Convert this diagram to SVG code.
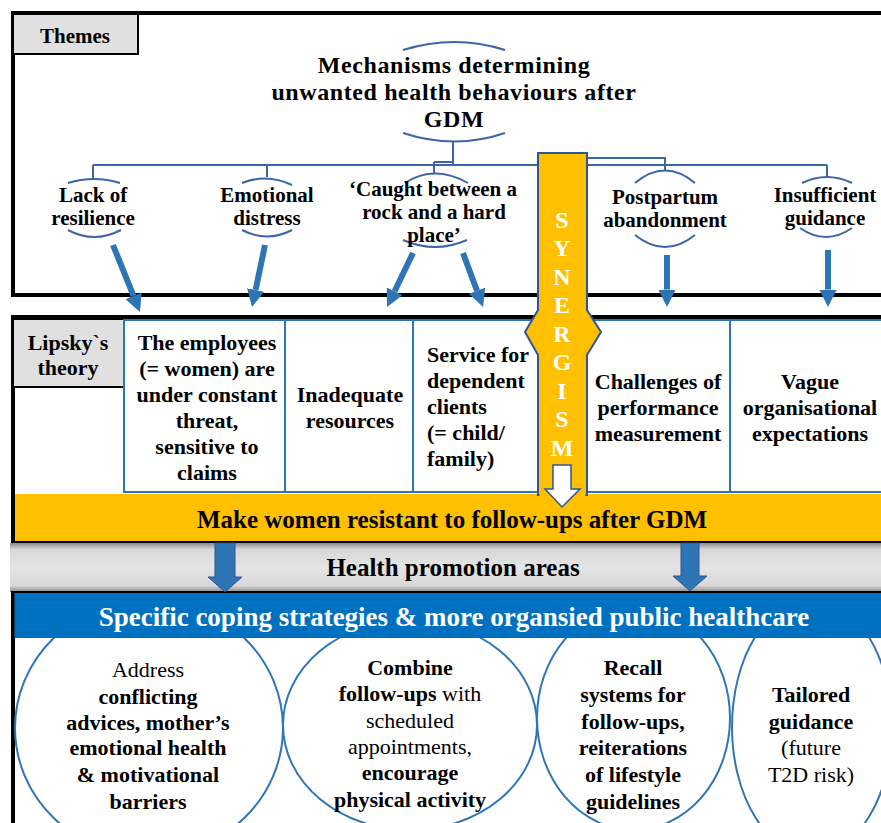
<svg xmlns="http://www.w3.org/2000/svg" width="881" height="823" viewBox="0 0 881 823">
<defs>
<style>
text{font-family:"Liberation Serif","Times New Roman",serif;fill:#000}
.b{font-weight:bold}
.t22{font-size:22px}
.t21{font-size:21px}
.c{text-anchor:middle}
.ttl{font-size:24px;font-weight:bold;letter-spacing:0.6px;text-anchor:middle}
.frame{fill:#fff;stroke:#000;stroke-width:4}
.lbl{fill:#e0e0e0;stroke:#000;stroke-width:2}
.box{fill:#fff;stroke:#2e75b6;stroke-width:2}
.tree{fill:none;stroke:#3d65a8;stroke-width:2}
.arr{stroke:#2e75b6;stroke-width:6;marker-end:url(#ah)}
.ell{fill:#fff;stroke:#2e75b6;stroke-width:2}
.fat{fill:#2e75b6;stroke:#2f5597;stroke-width:1}
.syn{font-size:24px;font-weight:bold;fill:#fff;text-anchor:middle}
</style>
<marker id="ah" viewBox="0 0 10 10" refX="0" refY="5" markerWidth="2.9" markerHeight="2.9" orient="auto" markerUnits="strokeWidth">
<path d="M0,0 L10,5 L0,10 z" fill="#2e75b6"/>
</marker>
<linearGradient id="gray" x1="0" y1="0" x2="0" y2="1">
<stop offset="0" stop-color="#8a8a8a"/>
<stop offset="0.13" stop-color="#d8d8d8"/>
<stop offset="0.5" stop-color="#e4e4e4"/>
<stop offset="0.87" stop-color="#d8d8d8"/>
<stop offset="1" stop-color="#8a8a8a"/>
</linearGradient>
</defs>

<!-- Themes section -->
<g id="themes-frame">
<rect class="frame" x="13" y="13" width="880" height="282"/>
<rect class="lbl" x="13" y="14" width="125" height="40"/>
<text class="b c" x="75" y="43" font-size="21">Themes</text>
</g>

<g id="title">
<path class="tree" d="M403,50 Q455,34 505,50 M403,133 Q455,150 505,133"/>
<text class="ttl" x="454" y="73">Mechanisms determining</text>
<text class="ttl" x="454" y="100">unwanted health behaviours after</text>
<text class="ttl" x="454" y="127">GDM</text>
</g>

<g id="tree-lines">
<path class="tree" d="M453,142 V165 M93,165 H827 M93,165 V179 M267,165 V177 M827,165 V177 M434,162 H453 M434,162 V173 M587,158 H665 V170"/>
</g>

<g id="theme-lack">
<path class="tree" d="M68,183 Q94,175 120,183 M68,230 Q94,244 121,230"/>
<text class="b c t21" x="93" y="202">Lack of</text>
<text class="b c t21" x="93" y="225">resilience</text>
</g>
<g id="theme-emotional">
<path class="tree" d="M242,183 Q267,173 292,185 M242,230 Q267,243 292,230"/>
<text class="b c t21" x="267" y="202">Emotional</text>
<text class="b c t21" x="267" y="225">distress</text>
</g>
<g id="theme-caught">
<path class="tree" d="M405,183 Q434,164 468,183 M403,240 Q435,254 467,240"/>
<text class="b c t21" x="433" y="196">‘Caught between a</text>
<text class="b c t21" x="434" y="219">rock and a hard</text>
<text class="b c t21" x="434" y="242">place’</text>
</g>
<g id="theme-postpartum">
<path class="tree" d="M635,183 Q665,158 695,183 M635,235 Q665,259 695,235"/>
<text class="b c t21" x="665" y="204">Postpartum</text>
<text class="b c t21" x="665" y="227">abandonment</text>
</g>
<g id="theme-insufficient">
<path class="tree" d="M802,183 Q827,171 852,183 M800,228 Q826,246 852,228"/>
<text class="b c t21" x="825" y="202">Insufficient</text>
<text class="b c t21" x="825" y="225">guidance</text>
</g>

<!-- Lipsky section -->
<g id="lipsky-frame">
<rect class="frame" x="13" y="317" width="880" height="225"/>
<rect class="lbl" x="13" y="319" width="111" height="68"/>
<text class="b c t22" x="68" y="350">Lipsky`s</text>
<text class="b c t22" x="68" y="375">theory</text>
</g>
<g id="lipsky-employees">
<rect class="box" x="124" y="320" width="161" height="172"/>
<text class="b c t22" x="207" y="350">The employees</text>
<text class="b c t22" x="207" y="376">(= women) are</text>
<text class="b c t22" x="207" y="402">under constant</text>
<text class="b c t22" x="207" y="428">threat,</text>
<text class="b c t22" x="207" y="454">sensitive to</text>
<text class="b c t22" x="207" y="480">claims</text>
</g>
<g id="lipsky-resources">
<rect class="box" x="285" y="320" width="128" height="172"/>
<text class="b c t22" x="350" y="402">Inadequate</text>
<text class="b c t22" x="350" y="428">resources</text>
</g>
<g id="lipsky-service">
<rect class="box" x="413" y="320" width="125" height="172"/>
<text class="b t22" x="427" y="362">Service for</text>
<text class="b t22" x="427" y="388">dependent</text>
<text class="b t22" x="427" y="414">clients</text>
<text class="b t22" x="427" y="440">(= child/</text>
<text class="b t22" x="427" y="466">family)</text>
</g>
<g id="lipsky-performance">
<rect class="box" x="587" y="320" width="143" height="172"/>
<text class="b c t22" x="658" y="389">Challenges of</text>
<text class="b c t22" x="658" y="415">performance</text>
<text class="b c t22" x="658" y="441">measurement</text>
</g>
<g id="lipsky-vague">
<rect class="box" x="730" y="320" width="160" height="172"/>
<text class="b c t22" x="810" y="389">Vague</text>
<text class="b c t22" x="810" y="415">organisational</text>
<text class="b c t22" x="810" y="441">expectations</text>
</g>

<g id="resistant">
<rect x="15" y="494" width="870" height="47" fill="#ffc000"/>
<line x1="13" y1="542" x2="881" y2="542" stroke="#000" stroke-width="2"/>
<text class="b c" font-size="25" x="452" y="528">Make women resistant to follow-ups after GDM</text>
</g>

<g id="synergism">
<path d="M538,153 H587 V310 L601,332 L587,355 V495 H538 V355 L525,332 L538,310 Z" fill="#ffc000" stroke="#2f5597" stroke-width="2"/>
<rect x="539.5" y="488" width="46" height="10" fill="#ffc000"/>
<text class="syn" x="562" y="228">S</text>
<text class="syn" x="562" y="256">Y</text>
<text class="syn" x="562" y="285">N</text>
<text class="syn" x="562" y="313">E</text>
<text class="syn" x="562" y="342">R</text>
<text class="syn" x="562" y="370">G</text>
<text class="syn" x="562" y="399">I</text>
<text class="syn" x="562" y="427">S</text>
<text class="syn" x="562" y="456">M</text>
<path d="M553,465 H571 V489 H580 L562,507 L545,489 H553 Z" fill="#fff" stroke="#2f5597" stroke-width="1.5"/>
</g>

<g id="health-promotion">
<rect x="10" y="543" width="875" height="49" fill="url(#gray)"/>
<text class="b c" font-size="25" x="453" y="576">Health promotion areas</text>
</g>

<!-- Strategies section -->
<g id="strategies-frame">
<rect class="frame" x="13" y="593" width="880" height="250" stroke-width="3"/>
</g>

<g id="strategy-address">
<ellipse class="ell" cx="149" cy="728" rx="134" ry="128"/>
<text class="c t22" x="148" y="677">Address</text>
<text class="b c t22" x="148" y="704">conflicting</text>
<text class="b c t22" x="148" y="730">advices, mother’s</text>
<text class="b c t22" x="148" y="755">emotional health</text>
<text class="b c t22" x="148" y="782">&amp; motivational</text>
<text class="b c t22" x="148" y="809">barriers</text>
</g>
<g id="strategy-combine">
<ellipse class="ell" cx="410" cy="725" rx="127" ry="105"/>
<text class="b c t22" x="410" y="675">Combine</text>
<text class="c t22" x="410" y="701"><tspan class="b">follow-ups</tspan> with</text>
<text class="c t22" x="410" y="728">scheduled</text>
<text class="c t22" x="410" y="754">appointments,</text>
<text class="b c t22" x="410" y="780">encourage</text>
<text class="b c t22" x="410" y="807">physical activity</text>
</g>
<g id="strategy-recall">
<ellipse class="ell" cx="633.5" cy="718" rx="96.5" ry="112"/>
<text class="b c t22" x="633" y="675">Recall</text>
<text class="b c t22" x="633" y="702">systems for</text>
<text class="b c t22" x="633" y="729">follow-ups,</text>
<text class="b c t22" x="633" y="755">reiterations</text>
<text class="b c t22" x="633" y="782">of lifestyle</text>
<text class="b c t22" x="633" y="809">guidelines</text>
</g>
<g id="strategy-tailored">
<ellipse class="ell" cx="812" cy="727" rx="80" ry="128"/>
<text class="b c t22" x="811" y="702">Tailored</text>
<text class="b c t22" x="811" y="729">guidance</text>
<text class="c t22" x="811" y="755">(future</text>
<text class="c t22" x="811" y="782">T2D risk)</text>
</g>

<g id="strategies-band">
<rect x="14.5" y="593" width="870" height="45" fill="#0070c0"/>
<text class="b c" font-size="27" x="454" y="626" style="fill:#fff">Specific coping strategies &amp; more organsied public healthcare</text>
</g>

<g id="connectors">
<line class="arr" x1="113" y1="245" x2="133.5" y2="295.9"/>
<line class="arr" x1="265" y1="245" x2="255.6" y2="290"/>
<line class="arr" x1="413" y1="253" x2="394.6" y2="291.3"/>
<line class="arr" x1="463" y1="253" x2="477" y2="290.7"/>
<line class="arr" x1="667" y1="255" x2="667" y2="289.6"/>
<line class="arr" x1="828" y1="250" x2="828" y2="289.6"/>
<path class="fat" d="M215,543 H235 V577 H242 L225,592 L208,577 H215 Z"/>
<path class="fat" d="M681,543 H699 V576 H707 L690,591 L673,576 H681 Z"/>
</g>
</svg>
